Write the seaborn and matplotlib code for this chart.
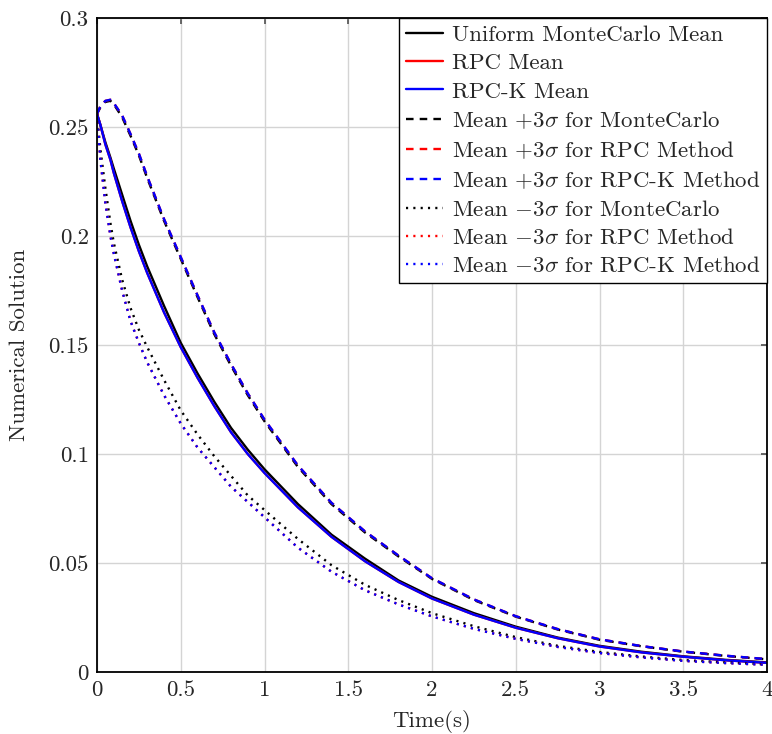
import matplotlib
matplotlib.use("Agg")
import matplotlib.pyplot as plt
import seaborn as sns

# time points
t = [0, 0.02, 0.05, 0.08, 0.1, 0.15, 0.2, 0.25, 0.3, 0.4, 0.5, 0.6, 0.7, 0.8, 0.9,
     1.0, 1.2, 1.4, 1.6, 1.8, 2.0, 2.25, 2.5, 2.75, 3.0, 3.25, 3.5, 3.75, 4.0]

mc_mean = [0.256, 0.251, 0.243, 0.236, 0.231, 0.219, 0.207, 0.196, 0.186, 0.168, 0.151,
           0.137, 0.124, 0.112, 0.102, 0.093, 0.077, 0.063, 0.052, 0.042, 0.0345, 0.027,
           0.0208, 0.0158, 0.0120, 0.0093, 0.0072, 0.0056, 0.0044]
rpc_mean = [0.256, 0.251, 0.242, 0.235, 0.229, 0.216, 0.204, 0.193, 0.183, 0.165, 0.149,
            0.135, 0.122, 0.110, 0.100, 0.0913, 0.0755, 0.062, 0.0508, 0.0413, 0.0337,
            0.0263, 0.0203, 0.0155, 0.0117, 0.0090, 0.0070, 0.0054, 0.0042]
rpck_mean = [0.256, 0.251, 0.242, 0.235, 0.229, 0.216, 0.204, 0.193, 0.183, 0.165, 0.149,
             0.135, 0.122, 0.110, 0.100, 0.0913, 0.0755, 0.062, 0.0508, 0.0413, 0.0337,
             0.0263, 0.0203, 0.0155, 0.0117, 0.0090, 0.0070, 0.0054, 0.0042]

mc_upper = [0.256, 0.259, 0.2615, 0.262, 0.2605, 0.2545, 0.246, 0.237, 0.2265, 0.207, 0.1895,
            0.172, 0.155, 0.1405, 0.127, 0.115, 0.094, 0.077, 0.064, 0.053, 0.0427, 0.033,
            0.0254, 0.0195, 0.0148, 0.0118, 0.0093, 0.0074, 0.0058]
rpc_upper = [0.256, 0.2595, 0.262, 0.2625, 0.261, 0.2553, 0.2468, 0.2378, 0.2273, 0.2078,
             0.1903, 0.1728, 0.1558, 0.1413, 0.1278, 0.1158, 0.0947, 0.0776, 0.0645, 0.0534,
             0.0430, 0.0333, 0.0256, 0.0197, 0.0150, 0.0119, 0.0094, 0.0075, 0.0059]
rpck_upper = [0.256, 0.2595, 0.262, 0.2625, 0.261, 0.2553, 0.2468, 0.2378, 0.2273, 0.2078,
              0.1903, 0.1728, 0.1558, 0.1413, 0.1278, 0.1158, 0.0947, 0.0776, 0.0645, 0.0534,
              0.0430, 0.0333, 0.0256, 0.0197, 0.0150, 0.0119, 0.0094, 0.0075, 0.0059]

mc_lower = [0.256, 0.240, 0.222, 0.206, 0.197, 0.180, 0.167, 0.157, 0.149, 0.134, 0.120,
            0.109, 0.099, 0.090, 0.081, 0.0743, 0.061, 0.049, 0.040, 0.033, 0.027, 0.021,
            0.016, 0.012, 0.0092, 0.0071, 0.0055, 0.0044, 0.0035]
rpc_lower = [0.256, 0.235, 0.215, 0.200, 0.192, 0.175, 0.161, 0.151, 0.142, 0.127, 0.114,
             0.103, 0.094, 0.085, 0.078, 0.071, 0.057, 0.046, 0.0375, 0.031, 0.0255,
             0.0198, 0.0152, 0.0115, 0.0087, 0.0067, 0.0051, 0.0041, 0.0033]
rpck_lower = [0.256, 0.235, 0.215, 0.200, 0.192, 0.175, 0.161, 0.151, 0.142, 0.127, 0.114,
              0.103, 0.094, 0.085, 0.078, 0.071, 0.057, 0.046, 0.0375, 0.031, 0.0255,
              0.0198, 0.0152, 0.0115, 0.0087, 0.0067, 0.0051, 0.0041, 0.0033]

labels = [
    "Uniform MonteCarlo Mean", "RPC Mean", "RPC-K Mean",
    r"Mean $+3\sigma$ for MonteCarlo", r"Mean $+3\sigma$ for RPC Method",
    r"Mean $+3\sigma$ for RPC-K Method",
    r"Mean $-3\sigma$ for MonteCarlo", r"Mean $-3\sigma$ for RPC Method",
    r"Mean $-3\sigma$ for RPC-K Method",
]
xticks = [0, 0.5, 1, 1.5, 2, 2.5, 3, 3.5, 4]
xtick_labels = ["0", "0.5", "1", "1.5", "2", "2.5", "3", "3.5", "4"]
yticks = [0, 0.05, 0.1, 0.15, 0.2, 0.25, 0.3]
ytick_labels = ["0", "0.05", "0.1", "0.15", "0.2", "0.25", "0.3"]

sns.set_theme(style="whitegrid")
plt.rcParams["font.family"] = ["cmr10", "DejaVu Serif"]
plt.rcParams["mathtext.fontset"] = "cm"
plt.rcParams["axes.unicode_minus"] = False
plt.rcParams["axes.formatter.use_mathtext"] = True

fs = 16.5
fig = plt.figure(figsize=(7.72, 7.34), dpi=100)
ax = fig.add_axes([97 / 772, 62 / 734, 670 / 772, 654 / 734])

series = [mc_mean, rpc_mean, rpck_mean, mc_upper, rpc_upper, rpck_upper,
          mc_lower, rpc_lower, rpck_lower]
colors = ["black", "red", "blue"] * 3
styles = ["-"] * 3 + [(0, (3.2, 2.6))] * 3 + [(0, (0.9, 2.2))] * 3

for vals, col, ls, lab in zip(series, colors, styles, labels):
    sns.lineplot(x=t, y=vals, ax=ax, color=col, linestyle=ls, linewidth=1.7,
                 label=lab, sort=False)

ax.set_xlim(0, 4)
ax.set_ylim(0, 0.3)
ax.set_xticks(xticks)
ax.set_xticklabels(xtick_labels)
ax.set_yticks(yticks)
ax.set_yticklabels(ytick_labels)
ax.tick_params(labelsize=fs, direction="in", length=4, color="#555555",
               top=True, right=True, pad=6)
ax.grid(True, color="#d4d4d4", linewidth=1.0)
for sp in ax.spines.values():
    sp.set_color("black")
    sp.set_linewidth(1.3)

ax.set_xlabel("Time(s)", fontsize=fs, labelpad=7)
ax.set_ylabel("Numerical Solution", fontsize=fs, labelpad=14)

leg = ax.legend(loc="upper right", fontsize=fs, frameon=True, fancybox=False,
                framealpha=1, edgecolor="black", borderaxespad=0,
                handlelength=1.6, handletextpad=0.4, labelspacing=0.36,
                borderpad=0.3)
leg.get_frame().set_linewidth(1.0)

fig.savefig("out.png", dpi=100)
